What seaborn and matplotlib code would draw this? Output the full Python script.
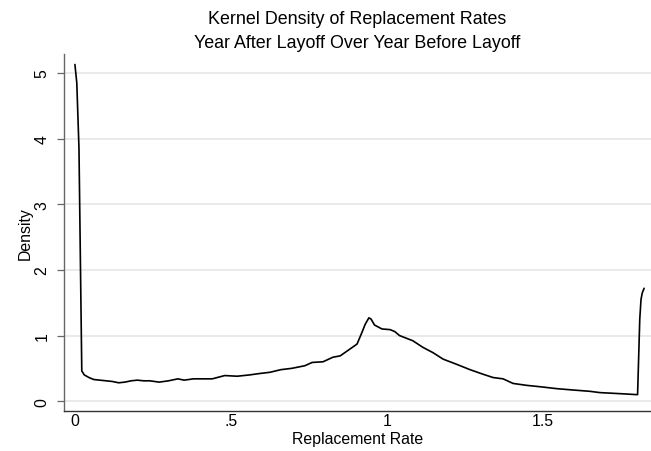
import matplotlib
matplotlib.use("Agg")
import matplotlib.pyplot as plt
import seaborn as sns
import pandas as pd

# Data
rate = [0.000, 0.006, 0.013, 0.022, 0.030, 0.045, 0.060, 0.080, 0.100, 0.120,
        0.140, 0.160, 0.180, 0.200, 0.220, 0.240, 0.270, 0.300, 0.330, 0.350,
        0.380, 0.440, 0.480, 0.520, 0.560, 0.590, 0.625, 0.660, 0.695, 0.737,
        0.760, 0.795, 0.827, 0.850, 0.880, 0.904, 0.920, 0.930, 0.942, 0.949,
        0.960, 0.984, 1.010, 1.025, 1.040, 1.083, 1.115, 1.147, 1.180, 1.224,
        1.266, 1.308, 1.340, 1.372, 1.404, 1.449, 1.490, 1.545, 1.596, 1.650,
        1.683, 1.724, 1.763, 1.798, 1.803, 1.810, 1.814, 1.818, 1.824]
density = [5.13, 4.85, 3.85, 0.46, 0.40, 0.36, 0.33, 0.32, 0.31, 0.30,
           0.28, 0.29, 0.31, 0.32, 0.31, 0.31, 0.29, 0.31, 0.34, 0.32,
           0.34, 0.34, 0.39, 0.38, 0.40, 0.42, 0.44, 0.48, 0.50, 0.54,
           0.59, 0.60, 0.67, 0.69, 0.79, 0.87, 1.05, 1.17, 1.27, 1.25,
           1.16, 1.10, 1.09, 1.06, 1.00, 0.92, 0.82, 0.74, 0.64, 0.56,
           0.48, 0.41, 0.36, 0.34, 0.27, 0.24, 0.22, 0.19, 0.17, 0.15,
           0.13, 0.12, 0.11, 0.10, 0.10, 1.25, 1.55, 1.65, 1.72]
xticks = [0, 0.5, 1, 1.5]
xticklabels = ["0", ".5", "1", "1.5"]
yticks = [0, 1, 2, 3, 4, 5]
yticklabels = ["0", "1", "2", "3", "4", "5"]

sns.set_style("white")
plt.rcParams["font.family"] = ["Liberation Sans", "DejaVu Sans"]
plt.rcParams["text.color"] = "black"
plt.rcParams["axes.labelcolor"] = "black"
plt.rcParams["xtick.color"] = "black"
plt.rcParams["ytick.color"] = "black"

df = pd.DataFrame({"rate": rate, "density": density})

fig = plt.figure(figsize=(6.51, 4.52), dpi=100)
ax = fig.add_axes([64 / 651, (452 - 412) / 452, (651 - 64) / 651, (412 - 55) / 452])

sns.lineplot(data=df, x="rate", y="density", ax=ax, color="black",
             linewidth=1.2, sort=False, estimator=None)

ax.set_xlim(-0.035, 1.846)
ax.set_ylim(-0.15, 5.29)
ax.set_xticks(xticks)
ax.set_xticklabels(xticklabels)
ax.set_yticks(yticks)
ax.set_yticklabels(yticklabels, rotation=90, va="center")

ax.yaxis.grid(True, color="#e4e4e4", linewidth=1.1)
ax.xaxis.grid(False)
ax.set_axisbelow(True)

for s in ["top", "right"]:
    ax.spines[s].set_visible(False)
ax.spines["left"].set_color("#666666")
ax.spines["bottom"].set_color("#333333")
ax.spines["left"].set_linewidth(1.0)
ax.spines["bottom"].set_linewidth(1.0)

ax.tick_params(axis="y", length=5, width=0.9, color="#666666",
               labelcolor="black", labelsize=11.4, pad=5.5, left=True)
ax.tick_params(axis="x", length=0, labelcolor="black", labelsize=11.4,
               pad=1.5, bottom=True)

ax.set_xlabel("Replacement Rate", fontsize=11.4, labelpad=2, color="black")
ax.set_ylabel("Density", fontsize=11.4, labelpad=1, color="black")

fig.text((64 + 651) / 2 / 651, 1 - 19 / 452, "Kernel Density of Replacement Rates",
         ha="center", va="center", fontsize=12.9, color="black")
fig.text((64 + 651) / 2 / 651, 1 - 43 / 452, "Year After Layoff Over Year Before Layoff",
         ha="center", va="center", fontsize=12.9, color="black")

fig.savefig("out.png", dpi=100, facecolor="white")
